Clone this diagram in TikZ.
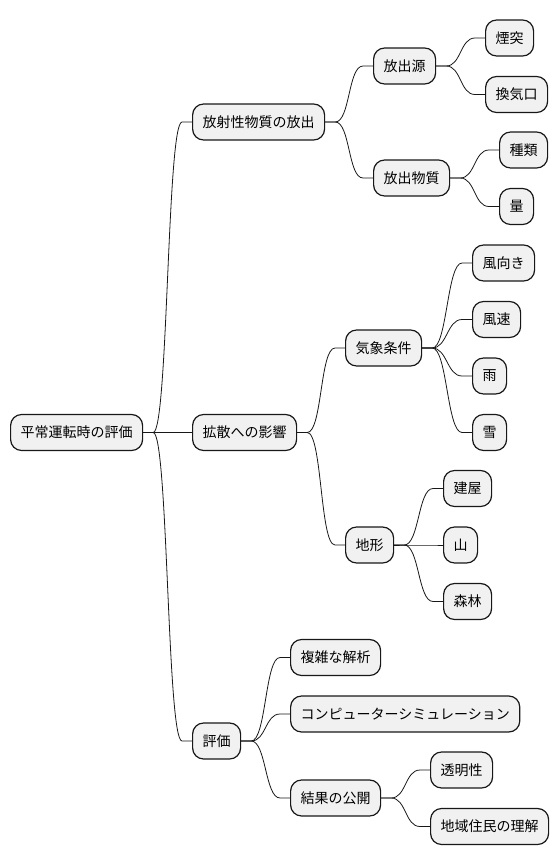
\documentclass[tikz,border=0pt]{standalone}
\usepackage{fontspec}
\newfontfamily\cjk{Noto Sans CJK JP}
\usetikzlibrary{calc}
\definecolor{boxfill}{HTML}{F1F1F1}
\definecolor{linec}{HTML}{181818}
\begin{document}
\begin{tikzpicture}[x=1pt,y=-1pt,
  topic/.style={draw=linec, fill=boxfill, line width=1.2pt, rounded corners=11pt,
    minimum height=36pt, inner xsep=10pt, inner ysep=0pt, anchor=west,
    font=\cjk\fontsize{14pt}{17pt}\selectfont},
  branch/.style={linec, line width=0.8pt,
    to path={-- ++(10,0) .. controls +(15,0) and ($(\tikztotarget)+(-25,0)$) .. ($(\tikztotarget)+(-10,0)$) -- (\tikztotarget)}}]
\useasboundingbox (0,0) rectangle (558,865);

\node[topic] (root) at(10,432.5) {平常運転時の評価};

\node[topic] (emit) at(192,122) {放射性物質の放出};
\node[topic] (source) at(373,66) {放出源};
\node[topic] (stack) at(485,38) {煙突};
\node[topic] (vent) at(485,94.5) {換気口};
\node[topic] (matter) at(373,178) {放出物質};
\node[topic] (kind) at(499,150) {種類};
\node[topic] (amount) at(499,206.5) {量};

\node[topic] (spread) at(192,432.5) {拡散への影響};
\node[topic] (weather) at(345,348) {気象条件};
\node[topic] (winddir) at(472,263) {風向き};
\node[topic] (windspd) at(472,319.5) {風速};
\node[topic] (rain) at(472,376) {雨};
\node[topic] (snow) at(472,432.5) {雪};
\node[topic] (terrain) at(345,545) {地形};
\node[topic] (bldg) at(443,488.5) {建屋};
\node[topic] (mount) at(443,545) {山};
\node[topic] (forest) at(443,601.5) {森林};

\node[topic] (eval) at(192,741) {評価};
\node[topic] (analysis) at(290,657.5) {複雑な解析};
\node[topic] (sim) at(290,714) {コンピューターシミュレーション};
\node[topic] (publish) at(290,798) {結果の公開};
\node[topic] (transp) at(430,770) {透明性};
\node[topic] (locals) at(430,826.5) {地域住民の理解};

\draw[branch] (root.east) to (emit.west);
\draw[branch] (root.east) to (spread.west);
\draw[branch] (root.east) to (eval.west);

\draw[branch] (emit.east) to (source.west);
\draw[branch] (emit.east) to (matter.west);
\draw[branch] (source.east) to (stack.west);
\draw[branch] (source.east) to (vent.west);
\draw[branch] (matter.east) to (kind.west);
\draw[branch] (matter.east) to (amount.west);

\draw[branch] (spread.east) to (weather.west);
\draw[branch] (spread.east) to (terrain.west);
\draw[branch] (weather.east) to (winddir.west);
\draw[branch] (weather.east) to (windspd.west);
\draw[branch] (weather.east) to (rain.west);
\draw[branch] (weather.east) to (snow.west);
\draw[branch] (terrain.east) to (bldg.west);
\draw[branch] (terrain.east) to (mount.west);
\draw[branch] (terrain.east) to (forest.west);

\draw[branch] (eval.east) to (analysis.west);
\draw[branch] (eval.east) to (sim.west);
\draw[branch] (eval.east) to (publish.west);
\draw[branch] (publish.east) to (transp.west);
\draw[branch] (publish.east) to (locals.west);
\end{tikzpicture}
\end{document}
